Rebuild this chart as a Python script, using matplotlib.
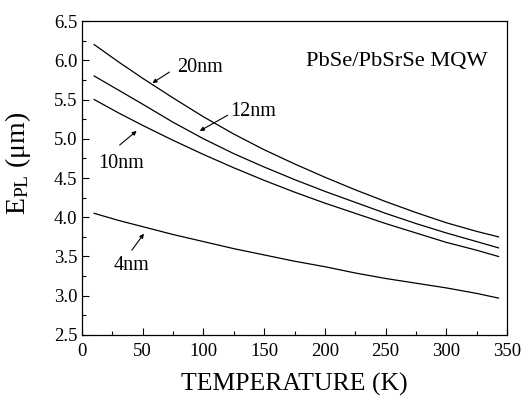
import matplotlib
matplotlib.use("Agg")
import matplotlib.pyplot as plt
from matplotlib.ticker import MultipleLocator

plt.rcParams['font.family'] = ['Liberation Serif', 'DejaVu Serif']
plt.rcParams['mathtext.fontset'] = 'custom'
plt.rcParams['mathtext.rm'] = 'Liberation Serif'
plt.rcParams['mathtext.it'] = 'Liberation Serif:italic'

temperature = [10, 30, 50, 75, 100, 125, 150, 175, 200, 225, 250, 275, 300, 325, 343]
e_20nm = [6.20, 5.98, 5.77, 5.52, 5.28, 5.06, 4.86, 4.68, 4.51, 4.35, 4.20, 4.06, 3.93, 3.82, 3.75]
e_12nm = [5.80, 5.62, 5.44, 5.21, 5.00, 4.81, 4.64, 4.48, 4.33, 4.19, 4.05, 3.92, 3.80, 3.69, 3.61]
e_10nm = [5.50, 5.33, 5.17, 4.98, 4.80, 4.63, 4.47, 4.32, 4.18, 4.05, 3.92, 3.80, 3.68, 3.58, 3.50]
e_4nm = [4.05, 3.96, 3.88, 3.78, 3.69, 3.60, 3.52, 3.44, 3.37, 3.29, 3.22, 3.16, 3.10, 3.03, 2.97]

series = [e_20nm, e_12nm, e_10nm, e_4nm]
labels = ["20nm", "12nm", "10nm", "4nm"]
# (text position, arrow tail, arrow head) in data coords
label_pos = [(97, 5.91), (141, 5.35), (32, 4.69), (41, 3.385)]
arrow_tail = [(72, 5.85), (120, 5.30), (31, 4.92), (41, 3.58)]
arrow_head = [(58, 5.71), (97, 5.10), (45, 5.10), (51, 3.79)]

fig = plt.figure(figsize=(5.26, 4.01), dpi=100)
ax = fig.add_axes([0.1559, 0.1646, 0.808, 0.783])

for s in series:
    ax.plot(temperature, s, color='black', lw=0.9)

for lab, tp, at, ah in zip(labels, label_pos, arrow_tail, arrow_head):
    ax.text(tp[0], tp[1], lab, fontsize=14.5, ha='center', va='center')
    ax.annotate('', xy=ah, xytext=at,
                arrowprops=dict(arrowstyle='-|>', color='black', lw=0.8,
                                mutation_scale=6, shrinkA=0, shrinkB=0))

ax.text(0.955, 0.872, "PbSe/PbSrSe MQW", transform=ax.transAxes, fontsize=16.2,
        ha='right', va='center')

ax.set_xlim(0, 350)
ax.set_ylim(2.5, 6.5)
ax.xaxis.set_major_locator(MultipleLocator(50))
ax.xaxis.set_minor_locator(MultipleLocator(25))
ax.yaxis.set_major_locator(MultipleLocator(0.5))
ax.yaxis.set_minor_locator(MultipleLocator(0.25))
ax.yaxis.set_major_formatter(plt.FormatStrFormatter('%.1f'))
ax.tick_params(which='both', direction='in', top=False, right=False, labelsize=13.5)
ax.tick_params(which='major', length=5, width=0.8)
ax.tick_params(which='minor', length=3, width=0.8)
ax.tick_params(axis='x', pad=6)
for sp in ax.spines.values():
    sp.set_linewidth(0.9)

ax.set_xlabel("TEMPERATURE (K)", fontsize=18.5, labelpad=9)
ax.set_ylabel(r"E$_{\mathrm{PL}}$ (μm)", fontsize=20)
ax.yaxis.set_label_coords(-0.115, 0.548)

fig.savefig("out.png", dpi=100)
